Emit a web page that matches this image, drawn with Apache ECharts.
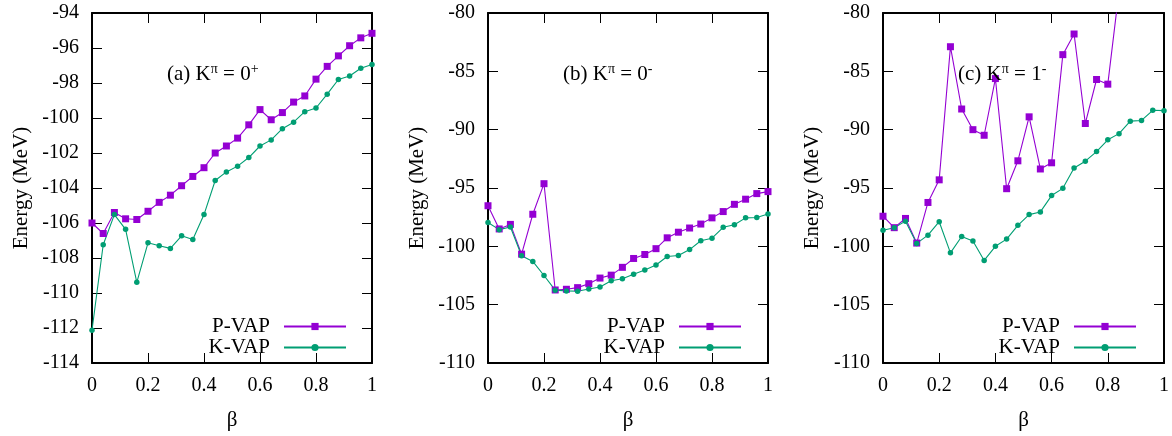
<!DOCTYPE html>
<html>
<head>
<meta charset="utf-8">
<script src="https://cdn.jsdelivr.net/npm/echarts@6/dist/echarts.min.js"></script>
<style>
  html, body { margin: 0; padding: 0; background: #fff; }
  #chart { width: 1172px; height: 436px; }
</style>
</head>
<body>
<div id="chart"></div>
<script>
// ---- data ----
const beta = [0, 0.04, 0.08, 0.12, 0.16, 0.20, 0.24, 0.28, 0.32, 0.36, 0.40, 0.44, 0.48,
              0.52, 0.56, 0.60, 0.64, 0.68, 0.72, 0.76, 0.80, 0.84, 0.88, 0.92, 0.96, 1.0];

const aPVAP = [-106.0, -106.6, -105.4, -105.76, -105.8, -105.33, -104.82, -104.41, -103.87, -103.34,
               -102.84, -102.0, -101.6, -101.15, -100.39, -99.52, -100.1, -99.69, -99.09, -98.74,
               -97.78, -97.05, -96.45, -95.87, -95.42, -95.16];
const aKVAP = [-112.13, -107.24, -105.52, -106.36, -109.39, -107.13, -107.3, -107.45, -106.73, -106.94,
               -105.52, -103.57, -103.08, -102.75, -102.26, -101.6, -101.25, -100.61, -100.24, -99.64,
               -99.43, -98.64, -97.8, -97.6, -97.16, -96.94];

const bPVAP = [-96.52, -98.51, -98.12, -100.67, -97.25, -94.63, -103.74, -103.68, -103.54, -103.2,
               -102.72, -102.47, -101.8, -101.04, -100.7, -100.2, -99.27, -98.79, -98.43, -98.09,
               -97.56, -97.02, -96.4, -95.96, -95.48, -95.31];
const bKVAP = [-97.95, -98.57, -98.34, -100.81, -101.29, -102.5, -103.76, -103.82, -103.85, -103.65,
               -103.48, -102.95, -102.78, -102.39, -102.02, -101.6, -100.87, -100.79, -100.28, -99.52,
               -99.3, -98.37, -98.15, -97.56, -97.53, -97.22];

const cPVAP = [-97.42, -98.4, -97.61, -99.72, -96.24, -94.3, -82.89, -88.23, -90.0, -90.48,
               -85.62, -95.06, -92.67, -88.9, -93.37, -92.84, -83.57, -81.8, -89.47, -85.7,
               -86.1, -78.1, -76.5, -75.5, -74.0, -73.0];
const cKVAP = [-98.62, -98.4, -97.84, -99.75, -99.04, -97.89, -100.56, -99.16, -99.55, -101.21,
               -100.0, -99.38, -98.2, -97.28, -97.05, -95.65, -95.03, -93.29, -92.7, -91.88,
               -90.87, -90.34, -89.27, -89.21, -88.34, -88.37];

const xTicks = [0, 0.2, 0.4, 0.6, 0.8, 1];
const panelTitles = ['(a) K{sup|π} = 0{sup|+}', '(b) K{sup|π} = 0{sup|-}', '(c) K{sup|π} = 1{sup|-}'];
const yRanges = [[-114, -94, 2], [-110, -80, 5], [-110, -80, 5]];
const seriesNames = ['P-VAP', 'K-VAP'];

// ---- style ----
const FONT = "'Liberation Serif', 'Times New Roman', serif";
const FS_TICK = 20;
const FS = 21;
const PURPLE = '#9400D3';
const GREEN = '#009E73';

const grids = [
  { left: 92, top: 13, width: 280, height: 356 },
  { left: 488, top: 13, width: 280, height: 356 },
  { left: 883, top: 13, width: 282, height: 356 }
];
const titlePos = [[162, 57], [558, 57], [953, 57]];
const legendRight = [825, 430, 35];

const pairs = [[aPVAP, aKVAP], [bPVAP, bKVAP], [cPVAP, cKVAP]];

const xAxes = [], yAxes = [], series = [], titles = [], legends = [];
const axisLine = { show: true, onZero: false, lineStyle: { color: '#000', width: 2 } };
const tick = { show: true, inside: true, length: 10, lineStyle: { color: '#000', width: 1 } };

grids.forEach((g, i) => {
  const [ymin, ymax, yint] = yRanges[i];
  xAxes.push({
    type: 'value', gridIndex: i, min: 0, max: 1, interval: 0.2, position: 'bottom',
    name: 'β', nameLocation: 'middle', nameGap: 47,
    nameTextStyle: { fontFamily: FONT, fontSize: FS, color: '#000' },
    axisLine, axisTick: tick,
    axisLabel: { fontFamily: FONT, fontSize: FS_TICK, color: '#000', margin: 13 },
    splitLine: { show: false }
  });
  xAxes.push({
    type: 'value', gridIndex: i, min: 0, max: 1, interval: 0.2, position: 'top',
    axisLine, axisTick: tick, axisLabel: { show: false }, splitLine: { show: false }
  });
  yAxes.push({
    type: 'value', gridIndex: i, min: ymin, max: ymax, interval: yint, position: 'left',
    name: 'Energy (MeV)', nameLocation: 'middle', nameGap: 60, nameRotate: 90,
    nameTextStyle: { fontFamily: FONT, fontSize: FS, color: '#000' },
    axisLine, axisTick: tick,
    axisLabel: { fontFamily: FONT, fontSize: FS_TICK, color: '#000', margin: 13 },
    splitLine: { show: false }
  });
  yAxes.push({
    type: 'value', gridIndex: i, min: ymin, max: ymax, interval: yint, position: 'right',
    axisLine, axisTick: tick, axisLabel: { show: false }, splitLine: { show: false }
  });

  const [pv, kv] = pairs[i];
  series.push({
    name: seriesNames[0], type: 'line', xAxisIndex: 2 * i, yAxisIndex: 2 * i,
    data: beta.map((b, k) => [b, pv[k]]),
    symbol: 'rect', symbolSize: 7, clip: true,
    lineStyle: { color: PURPLE, width: 1.1 }, itemStyle: { color: PURPLE },
    animation: false
  });
  series.push({
    name: seriesNames[1], type: 'line', xAxisIndex: 2 * i, yAxisIndex: 2 * i,
    data: beta.map((b, k) => [b, kv[k]]),
    symbol: 'circle', symbolSize: 5.5, clip: true,
    lineStyle: { color: GREEN, width: 1.1 }, itemStyle: { color: GREEN },
    animation: false
  });

  titles.push({
    text: panelTitles[i], left: titlePos[i][0], top: titlePos[i][1],
    textStyle: {
      fontFamily: FONT, fontSize: FS, fontWeight: 'normal', color: '#000',
      rich: { sup: { fontFamily: FONT, fontSize: 14, color: '#000', verticalAlign: 'bottom', padding: [0, 0, 10, 0] } }
    }
  });

  legends.push({
    data: seriesNames, orient: 'vertical', align: 'right',
    right: legendRight[i], top: 316, padding: 0,
    itemWidth: 62, itemHeight: 9, itemGap: 0,
    textStyle: { fontFamily: FONT, fontSize: FS, color: '#000', padding: [0, 9, 0, 0] },
    selectedMode: false
  });
});

const chart = echarts.init(document.getElementById('chart'), null, { renderer: 'canvas' });
chart.setOption({
  animation: false,
  backgroundColor: '#fff',
  title: titles,
  legend: legends,
  grid: grids,
  xAxis: xAxes,
  yAxis: yAxes,
  series: series
});
</script>
</body>
</html>
